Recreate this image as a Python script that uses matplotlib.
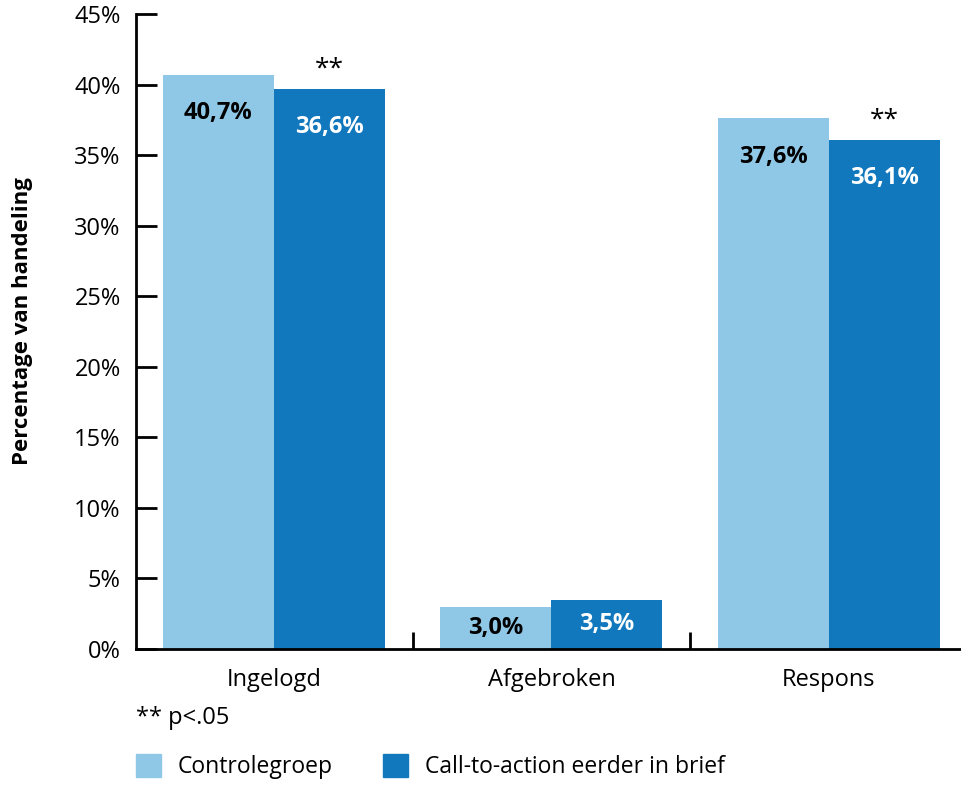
import matplotlib
matplotlib.use("Agg")
import matplotlib.pyplot as plt
from matplotlib.patches import Patch
import numpy as np

plt.rcParams['font.family'] = ['Open Sans', 'DejaVu Sans']

categories = ["Ingelogd", "Afgebroken", "Respons"]
control_values = [40.7, 3.0, 37.6]
cta_values = [39.7, 3.5, 36.1]
control_labels = ["40,7%", "3,0%", "37,6%"]
cta_labels = ["36,6%", "3,5%", "36,1%"]
cta_significant = [True, False, True]
series_names = ["Controlegroep", "Call-to-action eerder in brief"]
yticks = [0, 5, 10, 15, 20, 25, 30, 35, 40, 45]

c_light = "#8FC8E6"
c_dark = "#1278BE"

W, H = 961, 785
fig = plt.figure(figsize=(W / 100, H / 100), dpi=100)
ax = fig.add_axes([136 / W, 136 / H, (W - 136) / W, (649 - 14) / H])

x = np.arange(len(categories))
bw = 0.4
ax.bar(x - bw / 2, control_values, bw, color=c_light, zorder=1)
ax.bar(x + bw / 2, cta_values, bw, color=c_dark, zorder=1)

ax.set_xlim(-0.497, 2.476)
ax.set_ylim(0, 45)

for i in range(len(categories)):
    for val, lab, off, col in ((control_values[i], control_labels[i], -bw / 2, "black"),
                               (cta_values[i], cta_labels[i], bw / 2, "white")):
        ypos = max(val - 2.7, val / 2)
        ax.text(x[i] + off, ypos, lab, ha="center", va="center", fontsize=17,
                fontweight="bold", color=col)
    if cta_significant[i]:
        ax.annotate("**", (x[i] + bw / 2, cta_values[i]), xytext=(0, 5),
                    textcoords="offset points", ha="center", va="bottom", fontsize=19)

ax.spines["top"].set_visible(False)
ax.spines["right"].set_visible(False)
ax.spines["left"].set_linewidth(2)
ax.spines["bottom"].set_linewidth(2)

ax.set_yticks(yticks)
ax.set_yticklabels([f"{v}%" for v in yticks])
ax.tick_params(axis="y", direction="in", length=15, width=2, labelsize=17, pad=11)

ax.set_xticks(x)
ax.set_xticklabels(categories)
ax.tick_params(axis="x", length=0, labelsize=17, pad=14)
ax.set_xticks([0.5, 1.5], minor=True)
ax.tick_params(axis="x", which="minor", direction="in", length=12, width=2)

ax.set_ylabel("Percentage van handeling", fontsize=16, fontweight="bold")
ax.yaxis.set_label_coords(-0.125, 0.516)

fig.text(136 / W, 1 - 718 / H, "** p<.05", fontsize=17, va="center", ha="left")

handles = [Patch(color=c_light), Patch(color=c_dark)]
fig.legend(handles, series_names, loc="lower left", bbox_to_anchor=(136 / W, 6 / H),
           ncol=2, frameon=False, fontsize=16.5, handlelength=1.09, handleheight=1.14,
           handletextpad=0.74, columnspacing=2.2, borderpad=0, borderaxespad=0)

fig.savefig("out.png", dpi=100)
